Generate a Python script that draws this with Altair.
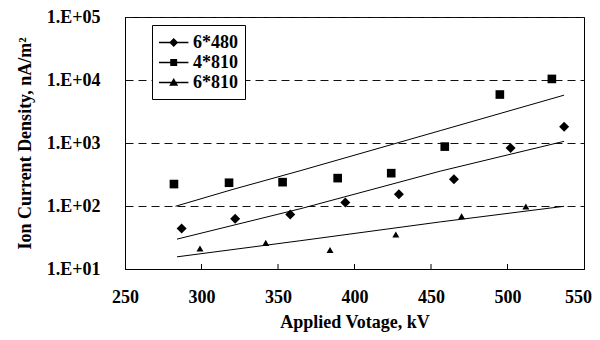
import altair as alt
import pandas as pd

series_names = ["6*480", "4*810", "6*810"]

# measured points
d480_x = [287, 322, 358, 394, 429, 465, 502, 537]
d480_y = [44, 63, 73, 114, 153, 267, 836, 1815]
s810_x = [282, 318, 353, 389, 424, 459, 495, 529]
s810_y = [223, 234, 239, 277, 332, 877, 5880, 10400]
t810_x = [299, 342, 384, 427, 470, 512]
t810_y = [21.2, 26, 20, 35.3, 68.7, 98]

# trend lines
tr480_x = [284, 365, 456, 537]
tr480_y = [29.8, 91, 357, 1064]
tr4810_x = [283, 320, 365, 456, 537]
tr4810_y = [99, 182, 366, 1570, 5750]
tr6810_x = [284, 365, 456, 537]
tr6810_y = [15.6, 28.2, 55.9, 98.9]

x_ticks = [250, 300, 350, 400, 450, 500, 550]
inner_ticks = [300, 350, 400, 450, 500]
y_ticks = [10, 100, 1000, 10000, 100000]

pts = pd.concat([
    pd.DataFrame({"x": d480_x, "y": d480_y, "series": series_names[0]}),
    pd.DataFrame({"x": s810_x, "y": s810_y, "series": series_names[1]}),
    pd.DataFrame({"x": t810_x, "y": t810_y, "series": series_names[2]}),
], ignore_index=True)

trends = pd.concat([
    pd.DataFrame({"x": tr480_x, "y": tr480_y, "series": series_names[0]}),
    pd.DataFrame({"x": tr4810_x, "y": tr4810_y, "series": series_names[1]}),
    pd.DataFrame({"x": tr6810_x, "y": tr6810_y, "series": series_names[2]}),
], ignore_index=True)

FONT = "Liberation Serif"
W, H = 459, 252

xscale = alt.Scale(domain=[250, 550], nice=False, zero=False)
yscale = alt.Scale(type="log", domain=[10, 100000], nice=False)

xaxis = alt.Axis(values=x_ticks, title="Applied Votage, kV", format="d",
                 grid=False, tickSize=0, labelPadding=19, titlePadding=7,
                 labelOffset={"condition": {"test": "datum.value >= 550", "value": -6},
                              "value": 0},
                 labelFlush=False, labelOverlap=False)
yaxis = alt.Axis(values=y_ticks, title="Ion Current Density, nA/m²",
                 labelExpr="'1.E+0' + round(log(datum.value) / LN10)",
                 grid=True, gridDash=[8, 5], gridColor="#111", gridWidth=1,
                 tickSize=0, labelPadding=25, titlePadding=12,
                 labelFlush=False, labelOverlap=False)

base_x = alt.X("x:Q", scale=xscale, axis=xaxis)
base_y = alt.Y("y:Q", scale=yscale, axis=yaxis)

ticks = alt.Chart(pd.DataFrame({"x": inner_ticks})).mark_rule(
    color="black", strokeWidth=1
).encode(
    x=alt.X("x:Q", scale=xscale, axis=xaxis),
    y=alt.value(H),
    y2=alt.value(H - 5),
)

lines = alt.Chart(trends).mark_line(color="black", strokeWidth=1).encode(
    x=base_x, y=base_y, detail="series:N"
)

points = alt.Chart(pts).mark_point(filled=True, color="black", opacity=1).encode(
    x=base_x,
    y=base_y,
    shape=alt.Shape("series:N",
                    scale=alt.Scale(domain=series_names,
                                    range=["diamond", "square", "triangle-up"]),
                    legend=None),
    size=alt.Size("series:N",
                  scale=alt.Scale(domain=series_names, range=[100, 49, 75]),
                  legend=None),
)

LINE = "M-1,-0.06L1.8,-0.06L1.8,0.06L-1,0.06Z"
legend_paths = [
    LINE + "M0.4,-0.43L0.83,0L0.4,0.43L-0.03,0Z",
    LINE + "M0.07,-0.33L0.73,-0.33L0.73,0.33L0.07,0.33Z",
    LINE + "M0.4,-0.42L0.83,0.32L-0.03,0.32Z",
]

carrier = alt.Chart(pts).transform_filter("datum.y < 0").mark_point(
    filled=True, color="black", opacity=1
).encode(
    x=base_x,
    y=base_y,
    shape=alt.Shape("series:N",
                    scale=alt.Scale(domain=series_names, range=legend_paths),
                    legend=alt.Legend(
                        title=None, orient="none", legendX=27, legendY=8,
                        strokeColor="black", fillColor="white", padding=7,
                        symbolSize=441, symbolFillColor="black",
                        symbolStrokeWidth=0,
                        symbolOpacity=1, labelOffset=13,
                        labelFont=FONT, labelFontSize=18,
                        labelFontWeight="bold", labelColor="black",
                        rowPadding=0,
                    )),
)

chart = alt.layer(ticks, lines, points, carrier).resolve_scale(
    shape="independent", size="independent"
).properties(
    width=W, height=H,
    autosize=alt.AutoSizeParams(type="none"),
    padding={"left": 117, "top": 9, "right": 8, "bottom": 71},
    background="white",
).configure_view(
    stroke="black", strokeWidth=1
).configure_axis(
    labelFont=FONT, labelFontSize=18, labelFontWeight="bold", labelColor="black",
    titleFont=FONT, titleFontSize=18, titleFontWeight="bold", titleColor="black",
    domainColor="black", domainWidth=1,
)

chart.save("out.html", embed_options={"renderer": "svg", "actions": False})
